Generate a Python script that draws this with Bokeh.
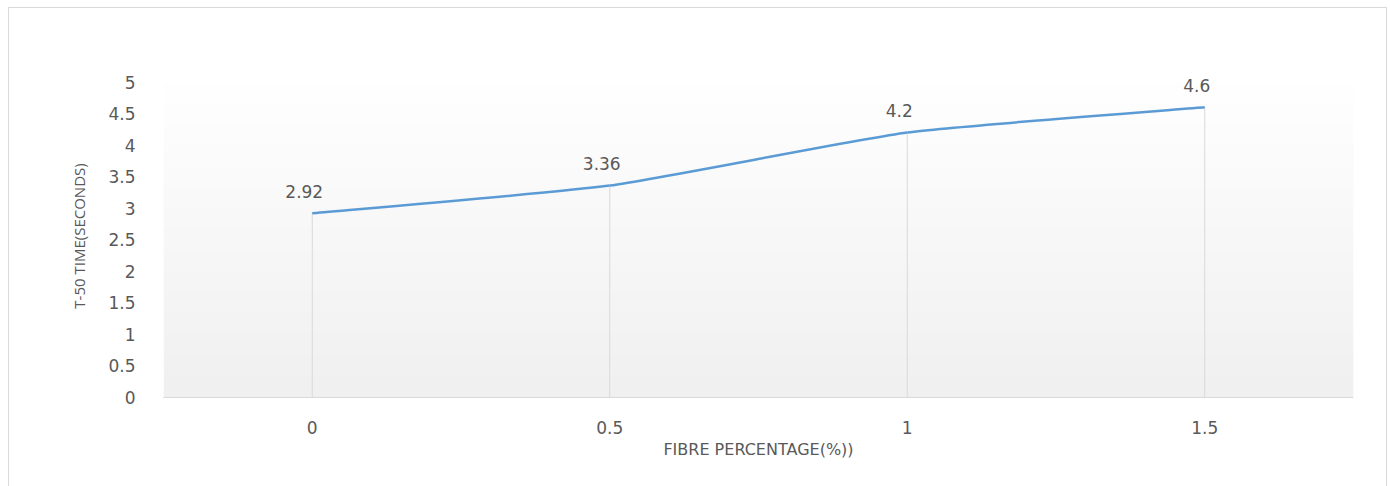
import numpy as np
from bokeh.plotting import figure
from bokeh.models import ColumnDataSource, FixedTicker, Range1d, CustomJSTickFormatter
from bokeh.core.properties import value
from bokeh.embed import file_html
from bokeh.resources import INLINE

# data
fibre_pct = [0, 0.5, 1, 1.5]
fibre_labels = ["0", "0.5", "1", "1.5"]
t50_time = [2.92, 3.36, 4.2, 4.6]
y_ticks = [0, 0.5, 1, 1.5, 2, 2.5, 3, 3.5, 4, 4.5, 5]
y_axis_max = 5

FONT = "DejaVu Sans"
GRAY = "#595959"

W, H = 1379, 479
p = figure(width=W, height=H, output_backend="svg", toolbar_location=None,
           x_range=Range1d(-0.25, 1.75), y_range=Range1d(0, 5.12),
           min_border_left=154, min_border_right=35, min_border_top=66,
           min_border_bottom=90)
p.margin = (7, 0, 0, 8)
p.styles = {"border-top": "1px solid #d9d9d9", "border-left": "1px solid #d9d9d9",
            "border-right": "1px solid #d9d9d9"}
p.outline_line_color = None
p.background_fill_color = "white"
p.border_fill_color = "white"
p.grid.visible = False

# gradient background of plot area (0 .. axis max)
n = 200
levels = np.linspace(240, 255, n).astype(np.uint32)
img = np.zeros((n, 1), dtype=np.uint32)
view = img.view(dtype=np.uint8).reshape((n, 1, 4))
view[:, 0, 0] = levels
view[:, 0, 1] = levels
view[:, 0, 2] = levels
view[:, 0, 3] = 255
p.image_rgba(image=[img], x=-0.25, y=0, dw=2.0, dh=y_axis_max)

# drop lines
p.segment(x0=fibre_pct, y0=[0] * len(fibre_pct), x1=fibre_pct, y1=t50_time,
          line_color="#d9d9d9", line_width=1)

# lightly smoothed line through the data points
k = 12.0
xs = np.array(fibre_pct, dtype=float)
ys = np.array(t50_time, dtype=float)
px = np.concatenate([[xs[0]], xs, [xs[-1]]])
py = np.concatenate([[ys[0]], ys, [ys[-1]]])
x0 = xs[:-1]; y0 = ys[:-1]; x1 = xs[1:]; y1 = ys[1:]
cx0 = x0 + (px[2:-1] - px[:-3]) / k
cy0 = y0 + (py[2:-1] - py[:-3]) / k
cx1 = x1 - (px[3:] - px[1:-2]) / k
cy1 = y1 - (py[3:] - py[1:-2]) / k
p.bezier(x0=x0, y0=y0, x1=x1, y1=y1, cx0=cx0, cy0=cy0, cx1=cx1, cy1=cy1,
         line_color="#5b9bd5", line_width=2.5)

# data labels
src = ColumnDataSource(dict(x=fibre_pct, y=t50_time, t=[str(v) for v in t50_time]))
p.text(x="x", y="y", text="t", source=src, text_font=value(FONT), text_font_size="17px",
       text_color=GRAY, text_align="center", text_baseline="middle",
       x_offset=-8, y_offset=-22)

# axes
xa = p.xaxis[0]
xa.ticker = FixedTicker(ticks=fibre_pct)
xa.major_label_overrides = {v: l for v, l in zip(fibre_pct, fibre_labels)}
xa.axis_line_color = "#d9d9d9"
xa.axis_line_width = 1
xa.major_tick_line_color = None
xa.minor_tick_line_color = None
xa.major_label_text_font = FONT
xa.major_label_text_font_size = "17px"
xa.major_label_text_color = GRAY
xa.major_label_standoff = 17
xa.axis_label = "FIBRE PERCENTAGE(%))"
xa.axis_label_text_font = FONT
xa.axis_label_text_font_size = "16px"
xa.axis_label_text_font_style = "normal"
xa.axis_label_text_color = GRAY
xa.axis_label_standoff = 3

ya = p.yaxis[0]
ya.ticker = FixedTicker(ticks=y_ticks)
ya.formatter = CustomJSTickFormatter(code="return String(tick);")
ya.axis_line_color = None
ya.major_tick_line_color = None
ya.minor_tick_line_color = None
ya.major_label_text_font = FONT
ya.major_label_text_font_size = "17px"
ya.major_label_text_color = GRAY
ya.major_label_standoff = 22
ya.axis_label = "T-50 TIME(SECONDS)"
ya.axis_label_text_font = "Open Sans"
ya.axis_label_text_font_size = "15px"
ya.axis_label_text_font_style = "normal"
ya.axis_label_text_color = GRAY
ya.axis_label_standoff = 16

open("out.html", "w").write(file_html(p, INLINE))
